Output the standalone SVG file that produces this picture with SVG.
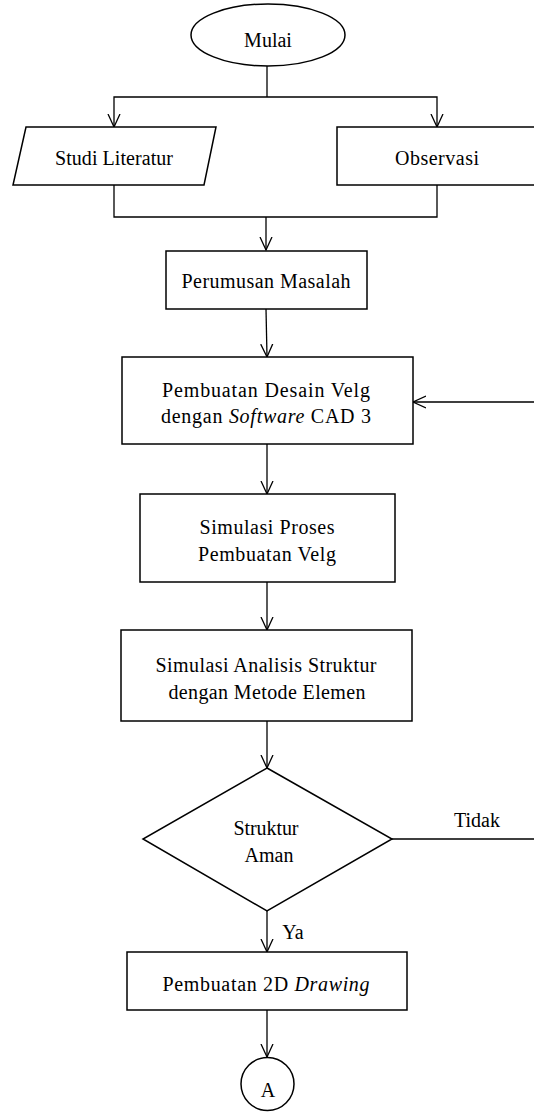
<svg xmlns="http://www.w3.org/2000/svg" width="534" height="1113" viewBox="0 0 534 1113">
<defs>
<marker id="arr" markerWidth="16" markerHeight="16" refX="13" refY="7" orient="auto" markerUnits="userSpaceOnUse">
<path d="M0,1 L13,7 L0,13" fill="none" stroke="#000" stroke-width="1.3"/>
</marker>
</defs>
<style>
.s{fill:#fff;stroke:#000;stroke-width:1.5}
.c{fill:none;stroke:#000;stroke-width:1.3}
.t{font-family:"Liberation Serif","Times New Roman",serif;font-size:20px;fill:#000;text-anchor:middle}
.i{font-style:italic}
</style>
<rect width="534" height="1113" fill="#fff"/>
<g id="connectors">
<polyline class="c" points="267,66 267,97"/>
<polyline class="c" points="267,97 114,97 114,127" marker-end="url(#arr)"/>
<polyline class="c" points="267,97 437,97 437,127" marker-end="url(#arr)"/>
<polyline class="c" points="114,185 114,217 437,217 437,185"/>
<polyline class="c" points="266,217 266,250" marker-end="url(#arr)"/>
<polyline class="c" points="266,309 267,357" marker-end="url(#arr)"/>
<polyline class="c" points="267,444 267,494" marker-end="url(#arr)"/>
<polyline class="c" points="267,582 267,630" marker-end="url(#arr)"/>
<polyline class="c" points="267,721 267,768" marker-end="url(#arr)"/>
<polyline class="c" points="267,911 267,952" marker-end="url(#arr)"/>
<polyline class="c" points="267,1010 267,1057" marker-end="url(#arr)"/>
<polyline class="c" points="392,839 537,839 537,402 413,402" marker-end="url(#arr)"/>
<text class="t" x="477" y="827">Tidak</text>
<text class="t" x="293" y="939">Ya</text>
</g>
<g id="mulai">
<ellipse class="s" cx="268" cy="35" rx="77" ry="31"/>
<text class="t" x="268" y="47">Mulai</text>
</g>
<g id="studi">
<polygon class="s" points="26,127 216,127 204,185 13,185"/>
<text class="t" x="114" y="165" textLength="118">Studi Literatur</text>
</g>
<g id="observasi">
<rect class="s" x="337" y="127" width="210" height="58"/>
<text class="t" x="437" y="165" textLength="84">Observasi</text>
</g>
<g id="perumusan">
<rect class="s" x="166" y="251" width="201" height="58"/>
<text class="t" x="266" y="288" textLength="169">Perumusan Masalah</text>
</g>
<g id="desain">
<rect class="s" x="122" y="357" width="291" height="87"/>
<text class="t" x="266" y="397" textLength="208">Pembuatan Desain Velg</text>
<text class="t" x="266" y="423" textLength="210">dengan <tspan class="i">Software</tspan> CAD 3</text>
</g>
<g id="simulasi-proses">
<rect class="s" x="140" y="494" width="255" height="88"/>
<text class="t" x="267" y="534" textLength="135">Simulasi Proses</text>
<text class="t" x="267" y="561" textLength="138">Pembuatan Velg</text>
</g>
<g id="simulasi-analisis">
<rect class="s" x="121" y="630" width="291" height="91"/>
<text class="t" x="266" y="672" textLength="221">Simulasi Analisis Struktur</text>
<text class="t" x="267" y="699" textLength="197">dengan Metode Elemen</text>
</g>
<g id="keputusan">
<polygon class="s" points="267,768 392,839 267,911 143,839"/>
<text class="t" x="266" y="835" textLength="65">Struktur</text>
<text class="t" x="269" y="862">Aman</text>
</g>
<g id="drawing">
<rect class="s" x="127" y="952" width="280" height="58"/>
<text class="t" x="266" y="991" textLength="207">Pembuatan 2D <tspan class="i">Drawing</tspan></text>
</g>
<g id="konektor-a">
<circle class="s" cx="267.5" cy="1084" r="26.5"/>
<text class="t" x="268" y="1097">A</text>
</g>
</svg>
